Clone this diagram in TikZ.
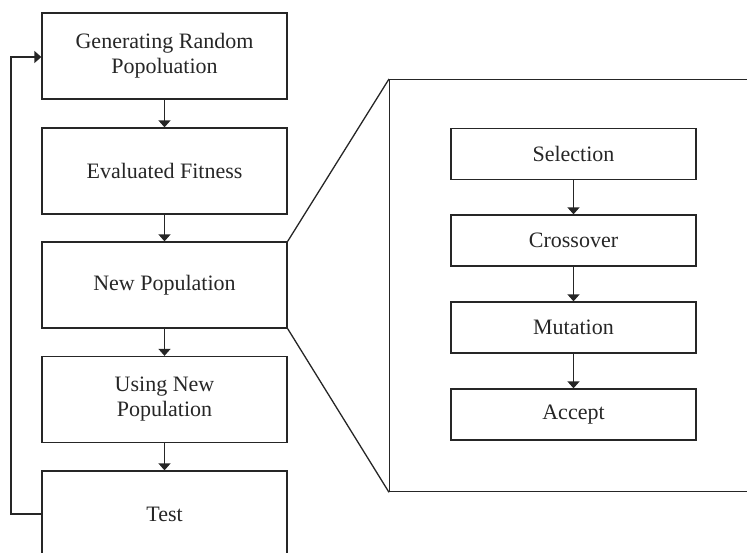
\documentclass[tikz,border=0pt]{standalone}
\usepackage{fontspec}
\setmainfont{Liberation Serif}
\usetikzlibrary{arrows.meta}
\begin{document}
\begin{tikzpicture}[x=1pt,y=-1pt,
  line width=1.3pt,
  stage/.style={draw=black!85, line width=1.3pt, minimum width=245pt, minimum height=86pt,
    inner sep=0pt, align=center, font=\fontsize{22}{25}\selectfont, text=black!85},
  substage/.style={draw=black!85, line width=1.3pt, minimum width=245pt, minimum height=51pt,
    inner sep=0pt, align=center, font=\fontsize{22}{25}\selectfont, text=black!85},
  flow/.style={draw=black!85, -{Triangle[length=7pt,width=12pt]}, line width=1.3pt}]
\useasboundingbox (0,0) rectangle (747,552);
\clip (0,0) rectangle (747,552);

% main loop
\node[stage] (gen)  at (164.5,56)  {Generating Random\\Popoluation};
\node[stage] (fit)  at (164.5,171) {Evaluated Fitness};
\node[stage] (newp) at (164.5,285) {New Population};
\node[stage] (use)  at (164.5,399.5) {Using New\\Population};
\node[stage] (test) at (164.5,514) {Test};

\draw[flow] (gen) -- (fit);
\draw[flow] (fit) -- (newp);
\draw[flow] (newp) -- (use);
\draw[flow] (use) -- (test);

\coordinate (lb) at (11,514);
\coordinate (lt) at (11,57);
\draw[flow] (test.west) -- (lb) -- (lt) -- (gen.west |- lt);

% detail of the new-population step
\node[draw=black!85, line width=1.3pt, minimum width=400pt, minimum height=412pt, inner sep=0pt,
  anchor=north west] (detail) at (389,79) {};
\draw[black!85] (newp.north east) -- (detail.north west);
\draw[black!85] (newp.south east) -- (detail.south west);

\node[substage] (sel) at (573.5,154)   {Selection};
\node[substage] (cro) at (573.5,240.5) {Crossover};
\node[substage] (mut) at (573.5,327.5) {Mutation};
\node[substage] (acc) at (573.5,414.5) {Accept};

\draw[flow] (sel) -- (cro);
\draw[flow] (cro) -- (mut);
\draw[flow] (mut) -- (acc);
\end{tikzpicture}
\end{document}
